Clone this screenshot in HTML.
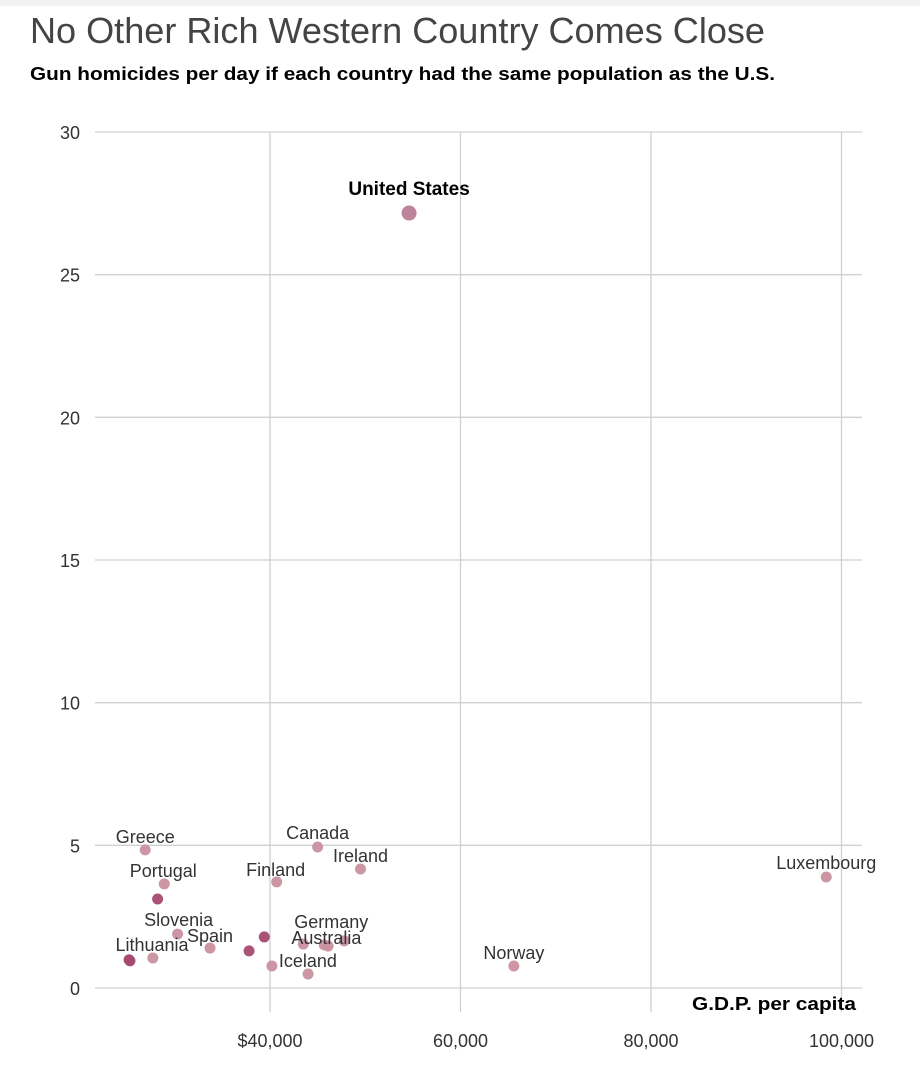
<!DOCTYPE html>
<html><head><meta charset="utf-8"><style>
body{margin:0;background:#fff;}
svg{display:block;font-family:"Liberation Sans",sans-serif;}
</style></head><body>
<svg id="chart" width="920" height="1076" viewBox="0 0 920 1076">
<rect x="0" y="0" width="920" height="6" fill="#f2f2f2"/>
<text x="30" y="43" font-size="36" fill="#444" textLength="735" lengthAdjust="spacingAndGlyphs">No Other Rich Western Country Comes Close</text>
<text x="30" y="80" font-size="18" font-weight="bold" fill="#000" textLength="745" lengthAdjust="spacingAndGlyphs">Gun homicides per day if each country had the same population as the U.S.</text>
<g id="grid"></g>
<g id="marks"></g>
<g id="labels"></g>
<text x="856" y="1010" font-size="18" font-weight="bold" text-anchor="end" fill="#000" textLength="164" lengthAdjust="spacingAndGlyphs">G.D.P. per capita</text>
</svg>
<script>
const yTicks = [0,5,10,15,20,25,30];
const xTicks = [40000,60000,80000,100000];
const xTickLabels = ["$40,000","60,000","80,000","100,000"];
const gdpVals = [26900,28900,28200,30300,33700,25300,25200,27700,37800,39400,40200,44000,43500,45700,46100,47800,40700,45000,49500,65600,98400,54600];
const homicides = [4.84,3.65,3.12,1.89,1.40,0.95,0.99,1.05,1.30,1.79,0.77,0.49,1.54,1.51,1.47,1.65,3.72,4.94,4.17,0.77,3.89,27.16];
const names = ["Greece","Portugal","","Slovenia","Spain","Lithuania","","","","","Iceland","","Australia","","","Germany","Finland","Canada","Ireland","Norway","Luxembourg","United States"];
const dark = [0,0,1,0,0,1,1,0,1,1,0,0,0,0,0,0,0,0,0,0,0,0];
// label offsets (style, not data)
const lblOff = [[0,-7],[-1,-7],[0,0],[1,-8],[0,-6],[22,-10],[0,0],[0,0],[0,0],[0,0],[36,1],[0,0],[23,0],[0,0],[0,0],[-13,-13],[-1,-6],[0,-8],[0,-7],[0,-7],[0,-8],[0,-18]];

const X = v => 270 + (v-40000)*190.5/20000;
const Y = v => 988 - v*(856/30);
const NS = "http://www.w3.org/2000/svg";
const grid = document.getElementById('grid');
const marks = document.getElementById('marks');
const labels = document.getElementById('labels');
function mk(tag, attrs, parent){const e=document.createElementNS(NS,tag);for(const k in attrs)e.setAttribute(k,attrs[k]);parent.appendChild(e);return e;}

yTicks.forEach(t=>{
  const l=mk('line',{x1:95,x2:862,y1:Y(t),y2:Y(t),stroke:'#d0d0d0','stroke-width':1.3},grid);
  
  
  const tx=mk('text',{x:80,y:Y(t)+7,'font-size':18,'text-anchor':'end',fill:'#333'},grid);
  tx.textContent=t;
  
  
});
xTicks.forEach((t,i)=>{
  const l=mk('line',{x1:X(t),x2:X(t),y1:132,y2:1012,stroke:'#d0d0d0','stroke-width':1.3},grid);
  
  
  const tx=mk('text',{x:X(t),y:1047,'font-size':18,'text-anchor':'middle',fill:'#333'},grid);
  tx.textContent=xTickLabels[i];
  
  
});
gdpVals.forEach((g,i)=>{
  const us = names[i]==="United States";
  const c=mk('circle',{cx:X(g),cy:Y(homicides[i]),r:us?7.5:5.5,fill:us?'#b87e95':(dark[i]?'#a64a70':'#c9909f'),opacity:0.95},marks);
  
  
  if(names[i]){
    const t=mk('text',{x:X(g)+lblOff[i][0],y:Y(homicides[i])+lblOff[i][1],'font-size':us?19:18,'font-weight':us?'bold':'normal','text-anchor':'middle',fill:us?'#000':'#333'},labels);
    t.textContent=names[i];
    
    
  }
});
</script>
</body></html>
